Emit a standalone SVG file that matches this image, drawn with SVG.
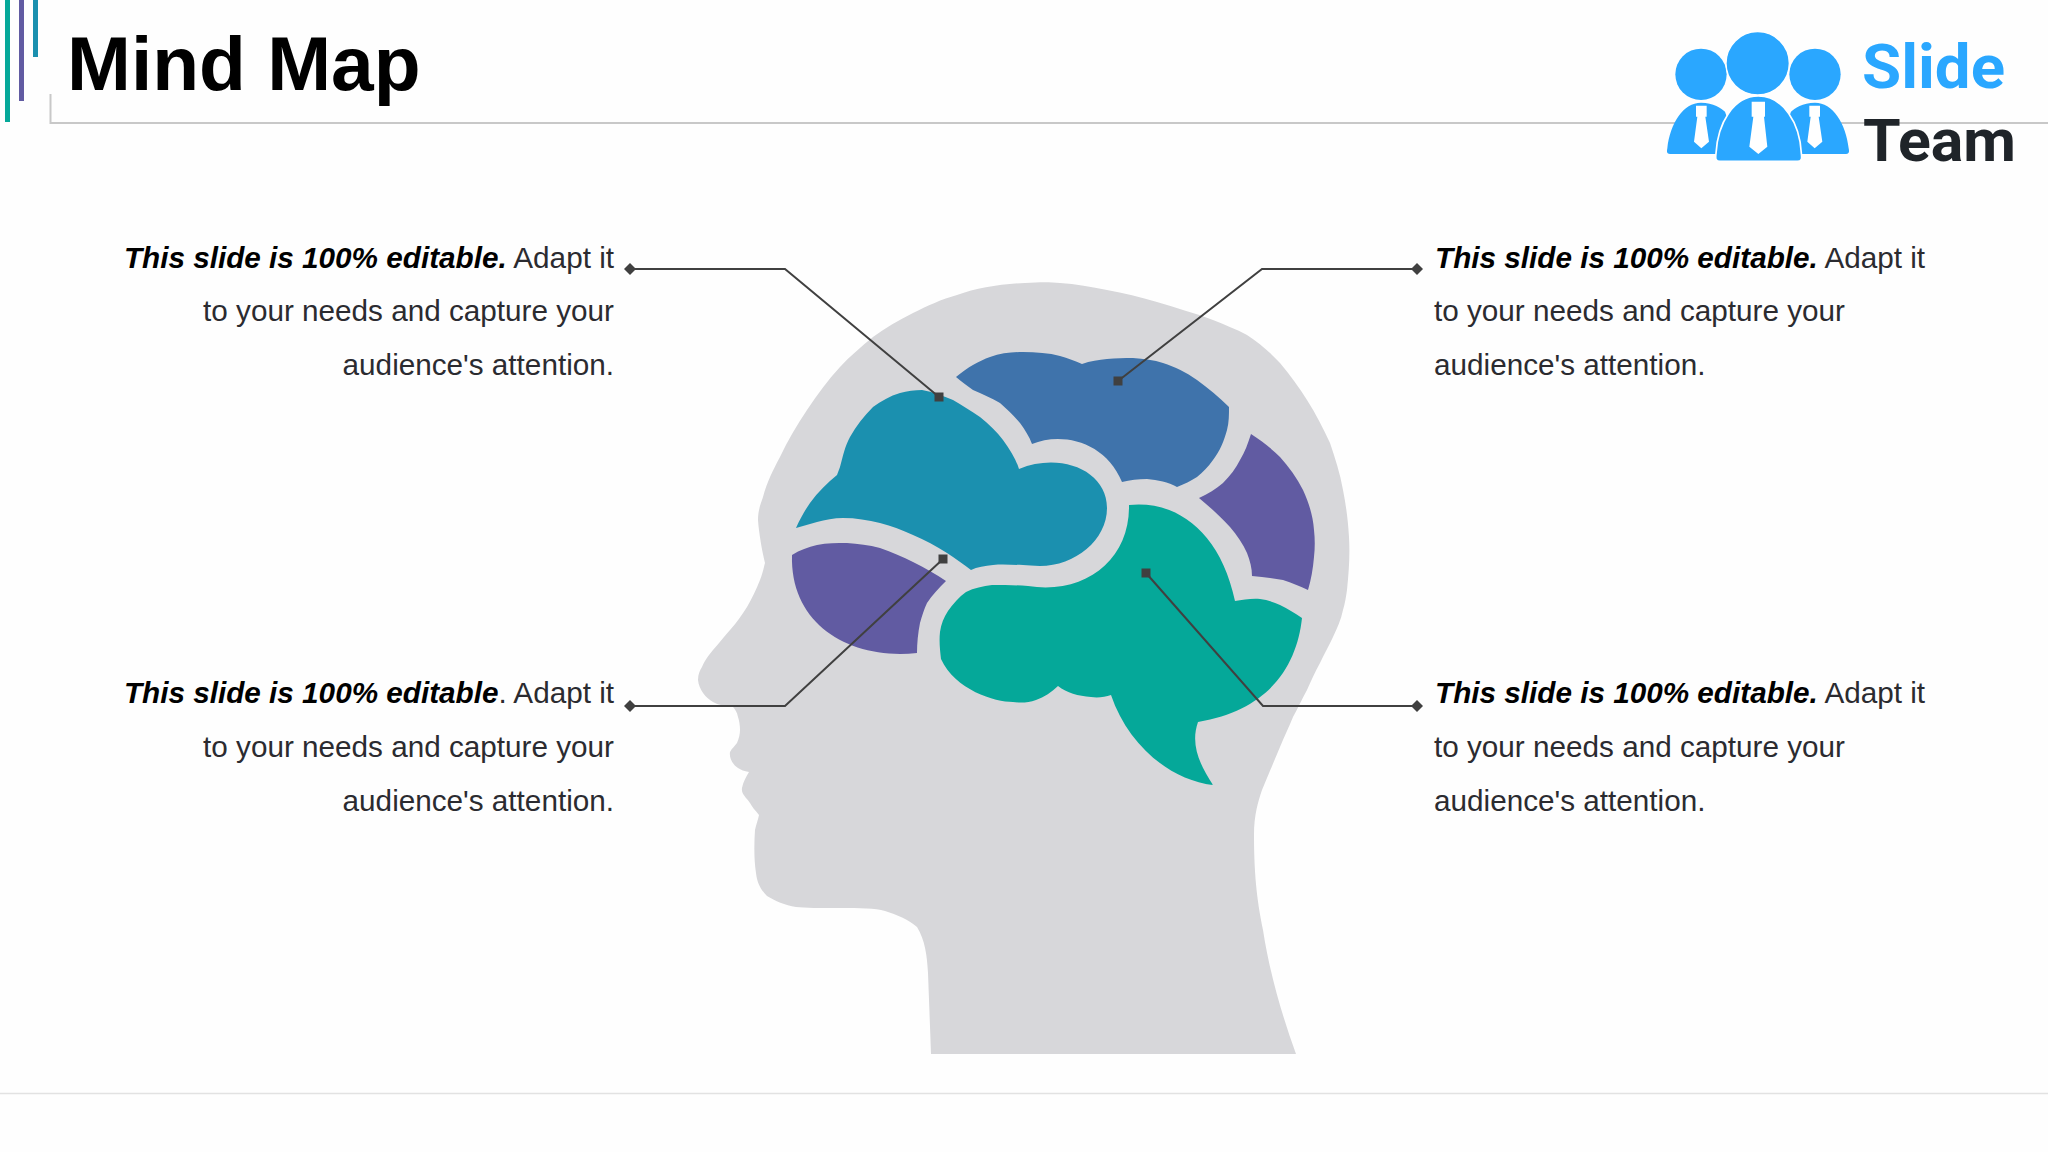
<svg xmlns="http://www.w3.org/2000/svg" width="2048" height="1152" viewBox="0 0 2048 1152">
<style>
text{font-family:"Liberation Sans",Arial,sans-serif;}
.t{font-size:29.700px;fill:#2b2b30;}
.b{font-weight:bold;font-style:italic;fill:#000;}
.e{text-anchor:end;}
.c{fill:none;stroke:#404040;stroke-width:2;marker-start:url(#dia);marker-end:url(#sq);}
.rule{fill:none;stroke:#c8c8c8;stroke-width:2;}
.logo{fill:#2aa7ff;}
.tie{fill:#fff;}
</style>
<defs>
<marker id="dia" markerUnits="userSpaceOnUse" markerWidth="14" markerHeight="14" refX="7" refY="7" orient="auto"><path d="M1,7 7,1 13,7 7,13Z" fill="#404040"/></marker>
<marker id="sq" markerUnits="userSpaceOnUse" markerWidth="10" markerHeight="10" refX="5" refY="5"><rect x="0.500" y="0.500" width="9" height="9" fill="#404040"/></marker>
</defs>
<rect width="2048" height="1152" fill="#fefefe"/>
<g id="header">
<rect x="5" y="0" width="5" height="122" fill="#05a899"/>
<rect x="19" y="0" width="5" height="101" fill="#615ba2"/>
<rect x="33" y="0" width="5" height="57" fill="#1b90af"/>
<path class="rule" d="M50.500,94V123H2048"/>
<path d="M0,1093.500H2048" stroke="#e2e2e2" stroke-width="1.500"/>
<text x="67" y="90" font-size="76.700" font-weight="bold" fill="#000">Mind Map</text>
</g>
<g id="logo">
<g transform="translate(1640 10) scale(.33333)">
<circle class="logo" cx="183" cy="193" r="77"/><circle class="logo" cx="525" cy="193" r="77"/>
<path class="logo" d="M90,432C80,432 80,425 82,415C90,340 130,278 183,278C220,278 245,295 255,305L300,432Z"/>
<path class="logo" d="M618,432C628,432 628,425 626,415C618,340 578,278 525,278C488,278 463,295 453,305L408,432Z"/>
<circle class="logo" cx="353" cy="160" r="95" stroke="#fff" stroke-width="4"/>
<path class="logo" stroke="#fff" stroke-width="5" d="M240,454C226,454 226,445 228,430C233,340 280,258 355,258C430,258 480,340 484,430C486,445 486,454 472,454Z"/>
<path class="tie" d="M335,275H375V320H372L382,410 355,432 328,410 340,320H335Z"/>
<path class="tie" d="M168,287H200V320H196L207,395 184,415 162,395 172,320H168Z"/>
<path class="tie" d="M508,287H540V320H536L547,395 524,415 502,395 512,320H508Z"/>
</g>
<text x="1862" y="88" font-size="62" font-weight="bold" textLength="143" lengthAdjust="spacingAndGlyphs" style="font-family:Roboto,sans-serif" fill="#2aa7ff">Slide</text>
<text x="1863" y="161" font-size="60" font-weight="bold" textLength="153" lengthAdjust="spacingAndGlyphs" style="font-family:Roboto,sans-serif" fill="#1f2429">Team</text>
</g>
<g id="head">
<path fill="#d7d7da" d="M931,1054C930,1025 929,1000 928,973C927,955 925,940 917,927C908,919 897,915 885,911C875,908 860,908 840,908C820,908 805,908 796,907C785,905 775,901 767,896C760,889 757,882 756,873C754,860 754,845 755,830C756,825 758,820 759,815C755,810 752,807 750,803C746,797 741,794 742,788C743,782 746,777 749,772C744,771 741,770 738,768C733,765 729,758 730,752C732,748 735,746 737,743C739,738 740,734 740,730C740,725 739,720 738,717C737,712 735,709 733,707C725,706 718,705 713,702C706,698 699,690 698,680C698,674 700,670 702,667C705,660 708,656 713,650C719,643 724,637 730,630C737,622 742,615 747,607C752,598 756,590 760,580C763,573 764,566 765,563C763,555 759,535 758,520C758,510 761,503 763,497C767,482 773,470 780,457C788,440 797,425 807,410C817,395 828,380 840,367C850,356 861,347 873,337C885,328 899,320 913,313C927,306 942,299 957,295C977,288 1000,284 1025,283C1040,282 1050,282 1060,283C1076,284 1091,287 1107,290C1124,293 1140,297 1157,302C1176,308 1195,313 1213,320C1225,325 1236,329 1247,335C1259,343 1270,352 1280,363C1290,375 1299,387 1307,400C1316,414 1323,428 1330,443C1335,458 1340,473 1343,490C1346,505 1348,520 1349,537C1350,555 1349,570 1347,590C1346,597 1345,603 1343,610C1341,620 1337,628 1333,637C1329,646 1324,654 1320,663C1315,672 1311,681 1307,690C1302,699 1298,708 1293,717C1289,727 1284,737 1280,747C1274,761 1268,776 1262,790C1258,802 1254,815 1254,835C1254,880 1258,905 1263,930C1270,975 1282,1015 1296,1054Z"/>
</g>
<g id="brain-upper">
<path fill="#3f73ab" d="M956,377C968,367 979,361 990,357C1001,353 1012,352 1023,352C1036,352 1049,353 1060,356C1068,358 1075,361 1082,364C1090,361 1099,360 1107,359C1116,358 1124,358 1133,358C1144,359 1154,360 1163,363C1175,367 1186,372 1197,380C1208,388 1219,397 1229,407C1229,415 1229,422 1227,430C1224,441 1220,451 1213,460C1208,467 1203,472 1197,477C1191,481 1184,484 1177,487C1168,482 1158,480 1147,479C1138,479 1130,480 1122,482C1105,440 1060,432 1032,444C1029,436 1025,430 1020,423C1014,416 1007,409 1000,403C992,398 982,394 973,390C967,386 961,381 956,377Z"/>
</g>
<g id="brain-front">
<path fill="#1b90af" d="M796,528C800,519 805,510 810,503C818,492 827,483 837,475L840,467C843,456 845,446 850,437C856,426 864,416 873,407C881,401 890,396 900,393C907,391 915,390 922,390C933,392 943,396 953,400C962,405 971,411 980,417C989,424 997,432 1003,440C1010,450 1016,459 1019,469C1060,452 1107,470 1107,508C1107,540 1075,566 1040,566C1033,566 1028,565 1023,565C1013,565 1003,564 993,565C985,566 977,567 971,570C963,564 955,558 947,553C936,546 925,540 913,535C902,530 892,526 880,523C868,520 856,518 843,518C834,518 825,520 817,522C810,524 803,526 796,528Z"/>
</g>
<g id="brain-back">
<path fill="#615ba2" d="M1251,434C1262,441 1272,449 1280,457C1289,467 1297,478 1303,490C1309,503 1313,516 1314,530C1315,539 1315,548 1314,557C1313,569 1311,580 1308,590C1300,586 1292,583 1283,580C1273,578 1262,577 1252,576C1252,568 1250,561 1247,553C1243,544 1237,535 1230,527C1221,517 1210,507 1199,498C1208,494 1216,489 1223,483C1230,476 1236,468 1240,460C1245,452 1248,443 1251,434Z"/>
</g>
<g id="brain-lower-left">
<path fill="#615ba2" d="M792,555C800,550 808,547 817,545C827,543 837,543 847,543C858,544 869,545 880,548C892,552 903,557 913,562C925,568 936,574 946,581C939,588 932,595 927,603C924,609 922,616 920,623C918,633 917,643 917,653C850,660 790,625 792,555Z"/>
</g>
<g id="brain-lower">
<path fill="#05a899" d="M1129,505C1175,500 1220,530 1235,601C1243,600 1252,598 1260,599C1267,600 1274,602 1280,605C1288,609 1295,613 1302,618C1297,665 1270,710 1198,722C1190,745 1200,765 1213,785C1170,780 1128,745 1111,695C1105,697 1098,698 1091,697C1078,696 1067,693 1058,686C1052,692 1044,697 1036,700C1028,703 1020,703 1013,702C995,702 955,690 941,659C940,650 939,641 940,632C941,624 944,617 948,611C953,604 959,597 966,592C974,588 983,586 992,585C1004,585 1016,585 1028,586C1085,595 1130,560 1129,505Z"/>
</g>
<g id="connectors">
<polyline class="c" points="630,269 785,269 939,397"/>
<polyline class="c" points="1417,269 1262,269 1118,381"/>
<polyline class="c" points="630,706 785,706 943,559"/>
<polyline class="c" points="1417,706 1263,706 1146,573"/>
</g>
<g id="label-top-left" class="t">
<text class="e" x="614" y="267.500"><tspan class="b">This slide is 100% editable.</tspan> Adapt it</text>
<text class="e" x="614" y="321">to your needs and capture your</text>
<text class="e" x="614" y="374.500">audience's attention.</text>
</g>
<g id="label-bottom-left" class="t">
<text class="e" x="614" y="703"><tspan class="b">This slide is 100% editable</tspan>. Adapt it</text>
<text class="e" x="614" y="757">to your needs and capture your</text>
<text class="e" x="614" y="810.500">audience's attention.</text>
</g>
<g id="label-top-right" class="t">
<text x="1435" y="267.500"><tspan class="b">This slide is 100% editable.</tspan> Adapt it</text>
<text x="1434" y="321">to your needs and capture your</text>
<text x="1434" y="374.500">audience's attention.</text>
</g>
<g id="label-bottom-right" class="t">
<text x="1435" y="703"><tspan class="b">This slide is 100% editable.</tspan> Adapt it</text>
<text x="1434" y="757">to your needs and capture your</text>
<text x="1434" y="810.500">audience's attention.</text>
</g>
</svg>
